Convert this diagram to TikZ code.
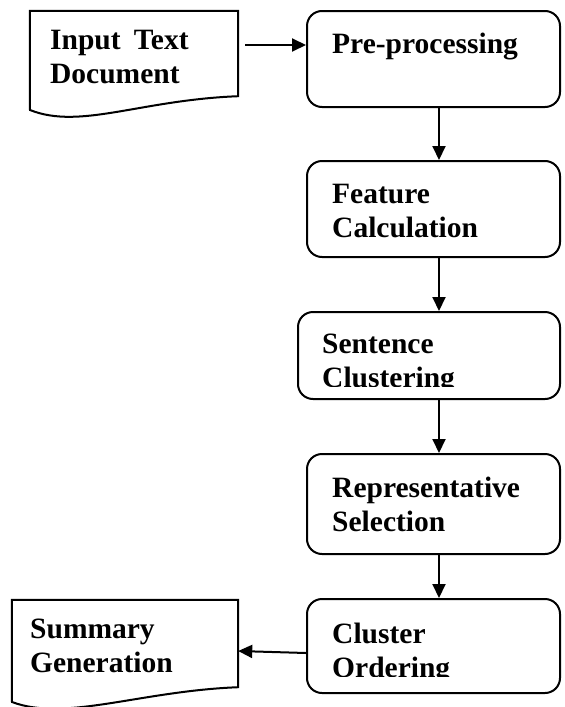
\documentclass[tikz,border=0pt]{standalone}
\usepackage{fontspec}
\setmainfont{Liberation Serif}
\usetikzlibrary{arrows.meta}
\begin{document}
\begin{tikzpicture}[
    x=1pt, y=-1pt,
    stepbox/.style={rectangle, draw, line width=2pt, rounded corners=15pt, inner sep=0pt},
    docbox/.style={rectangle, inner sep=0pt},
    docline/.style={line width=2pt, line join=miter},
    txt/.style={anchor=base west, align=left, inner sep=0pt, font=\bfseries\fontsize{29.5}{34}\selectfont},
    arrow/.style={-{Triangle[length=14pt, width=13pt]}, line width=2pt}
]
\useasboundingbox (0,0) rectangle (565,707);

% Process boxes
\node[stepbox, minimum width=253pt, minimum height=96pt] (pre) at (433.5,59) {};
\node[stepbox, minimum width=253pt, minimum height=96pt] (feat) at (433.5,209) {};
\node[stepbox, minimum width=262pt, minimum height=87pt] (sent) at (429,355.5) {};
\node[stepbox, minimum width=253pt, minimum height=100pt] (rep) at (433.5,504) {};
\node[stepbox, minimum width=253pt, minimum height=94pt] (clu) at (433.5,646) {};

% Documents
\node[docbox, minimum width=208pt, minimum height=85pt] (indoc) at (134,53.5) {};
\draw[docline] (indoc.south east) -- (indoc.north east) -- (indoc.north west) -- (30,110)
    .. controls (80,130) and (140,100) .. (indoc.south east) -- cycle;
\node[docbox, minimum width=226pt, minimum height=87pt] (sumdoc) at (125,643.5) {};
\draw[docline] (sumdoc.south east) -- (sumdoc.north east) -- (sumdoc.north west) -- (12,702)
    .. controls (65,722) and (140,691) .. (sumdoc.south east) -- cycle;

% Labels (anchored at the last line)
\node[txt] (inlbl) at (50,83) {Input\hspace{0.45em}Text\\Document};
\node[txt] (prelbl) at (332,53) {Pre-processing};
\node[txt] (featlbl) at (332,237) {Feature\\Calculation};
\begin{scope}
\clip (sent.north west) rectangle (560,386);
\node[txt] (sentlbl) at (322,387) {Sentence\\Clustering};
\end{scope}
\node[txt] (replbl) at (332,531) {Representative\\Selection};
\begin{scope}
\clip (clu.north west) rectangle (560,676.5);
\node[txt] (clulbl) at (332,677) {Cluster\\Ordering};
\end{scope}
\node[txt] (sumlbl) at (30,672) {Summary\\Generation};

% Connectors
\coordinate (spine) at (439,0);
\coordinate (toprow) at (0,45);
\coordinate (botrow) at (0,653);
\draw[arrow] ([xshift=7pt]indoc.east |- toprow) -- (pre.west |- toprow);
\draw[arrow] (pre.south -| spine) -- (feat.north -| spine);
\draw[arrow] (feat.south -| spine) -- (sent.north -| spine);
\draw[arrow] (sent.south -| spine) -- (rep.north -| spine);
\draw[arrow] (rep.south -| spine) -- (clu.north -| spine);
\draw[arrow] (clu.west |- botrow) -- ([yshift=2pt]sumdoc.east |- botrow);
\end{tikzpicture}
\end{document}
